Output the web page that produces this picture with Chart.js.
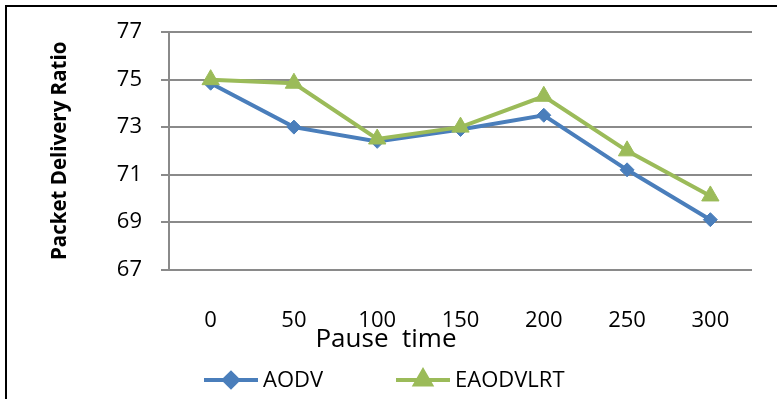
<!DOCTYPE html>
<html>
<head>
<meta charset="utf-8">
<script src="https://cdn.jsdelivr.net/npm/chart.js@4.4.0/dist/chart.umd.min.js"></script>
<style>
  html, body { margin: 0; padding: 0; background: #fff; overflow: hidden; }
  #frame { position: absolute; left: 5px; top: 5px; width: 900px; height: 500px; border: 2px solid #000; }
  #wrap { position: absolute; left: 0; top: 0; width: 777px; height: 399px; }
</style>
</head>
<body>
<div id="frame"></div>
<div id="wrap"><canvas id="chart" width="777" height="399"></canvas></div>
<script>
// values
let pauseTimes = ['0', '50', '100', '150', '200', '250', '300']
let aodv = [74.85, 73.0, 72.4, 72.9, 73.5, 71.2, 69.1]
let eaodvlrt = [75.0, 74.85, 72.5, 73.0, 74.3, 72.0, 70.1]

let yTitle = 'Packet Delivery Ratio'
let xTitle = 'Pause  time'

let fontFamily = '"Open Sans", "Noto Sans", sans-serif'
let blue = '#4a7ebb'
let green = '#9bbb59'
let gridGrey = '#8a8a8a'

// x title sits off-centre in the original, so draw it by hand
let xTitlePlugin = {
  id: 'xTitle',
  afterDraw(chart) {
    let ctx = chart.ctx
    ctx.save()
    ctx.font = '26px ' + fontFamily
    ctx.fillStyle = '#000'
    ctx.textAlign = 'center'
    ctx.textBaseline = 'alphabetic'
    ctx.fillText(xTitle, 386, 347)
    ctx.restore()
  },
}

// excel style legend: line with marker in the middle
let lineLegendPlugin = {
  id: 'lineLegend',
  afterDraw(chart) {
    let ctx = chart.ctx
    let y = 380
    chart.data.datasets.forEach((ds, i) => {
      let x0 = 204 + i * 192
      ctx.save()
      ctx.strokeStyle = ds.borderColor
      ctx.lineWidth = 4
      ctx.beginPath()
      ctx.moveTo(x0, y)
      ctx.lineTo(x0 + 54, y)
      ctx.stroke()
      ctx.fillStyle = ds.backgroundColor
      ctx.strokeStyle = ds.borderColor
      Chart.helpers.drawPoint(ctx, {
        pointStyle: ds.pointStyle,
        radius: ds.pointStyle === 'triangle' ? 9 : 7,
        rotation: 0,
        borderWidth: 1,
      }, x0 + 27, y)
      ctx.font = '22px ' + fontFamily
      ctx.fillStyle = '#000'
      ctx.textAlign = 'left'
      ctx.textBaseline = 'middle'
      ctx.fillText(ds.label, x0 + 59, y + 1)
      ctx.restore()
    })
  },
}

let ctx = document.getElementById('chart').getContext('2d')
let chart = new Chart(ctx, {
  type: 'line',
  data: {
    labels: pauseTimes,
    datasets: [
      {
        label: 'AODV',
        data: aodv,
        borderColor: blue,
        backgroundColor: blue,
        borderWidth: 4,
        pointStyle: 'rectRot',
        pointRadius: 7,
        pointBorderWidth: 1,
        lineTension: 0,
        fill: false,
        order: 1,
      },
      {
        label: 'EAODVLRT',
        data: eaodvlrt,
        borderColor: green,
        backgroundColor: green,
        borderWidth: 4,
        pointStyle: 'triangle',
        pointRadius: 10,
        pointBorderWidth: 1,
        lineTension: 0,
        fill: false,
        order: 0,
      },
    ],
  },
  options: {
    responsive: false,
    animation: false,
    events: [],
    layout: {
      padding: {left: 0, right: 25, top: 32, bottom: 0},
    },
    plugins: {
      legend: {display: false},
      tooltip: {enabled: false},
    },
    scales: {
      x: {
        offset: true,
        grid: {display: false},
        border: {display: false},
        ticks: {
          color: '#000',
          padding: 30,
          font: {family: fontFamily, size: 22},
          maxRotation: 0,
        },
        afterFit(scale) {
          scale.height = 129.5
        },
      },
      y: {
        min: 67,
        max: 77,
        ticks: {
          stepSize: 2,
          color: '#000',
          padding: 19,
          font: {family: fontFamily, size: 22},
        },
        grid: {
          color: gridGrey,
          lineWidth: 2,
          tickLength: 8,
        },
        border: {color: gridGrey, width: 2},
        title: {
          display: true,
          text: yTitle,
          color: '#000',
          font: {family: fontFamily, size: 20.5, weight: 'bold'},
          padding: {top: 48, bottom: 0},
        },
        afterFit(scale) {
          scale.width = 169
        },
      },
    },
  },
  plugins: [xTitlePlugin, lineLegendPlugin],
})
</script>
</body>
</html>
